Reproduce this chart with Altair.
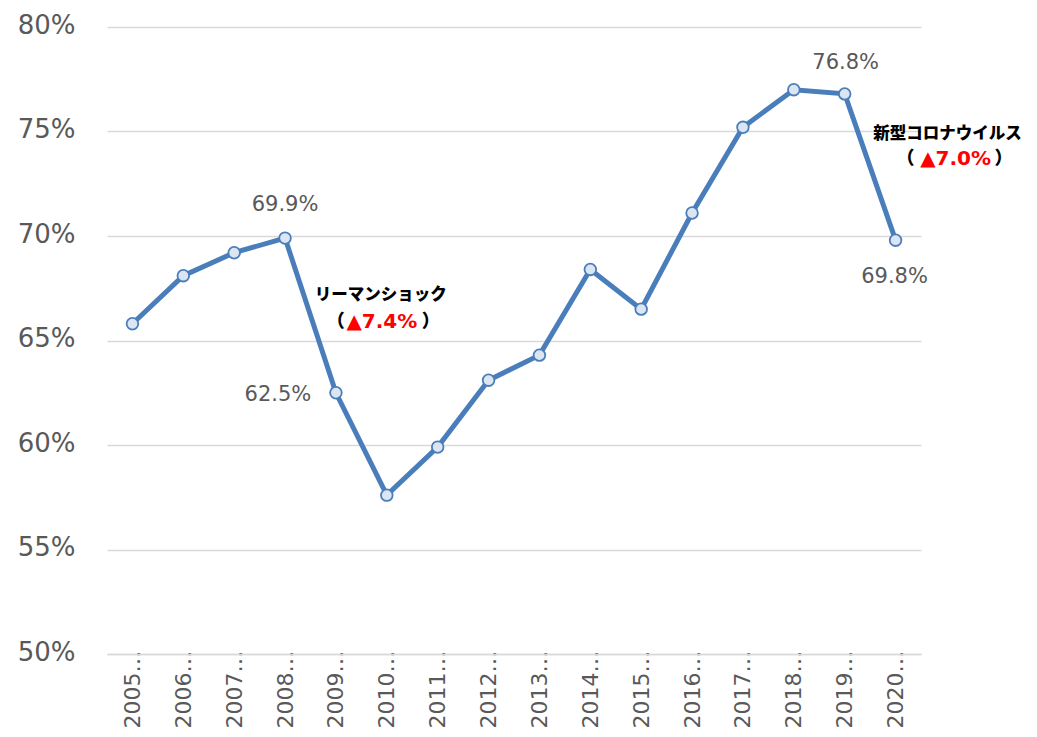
import altair as alt
import pandas as pd

# ---- data ----
years = [str(y) for y in range(2005, 2021)]
rates = [65.8, 68.1, 69.2, 69.9, 62.5, 57.6, 59.9, 63.1, 64.3, 68.4,
         66.5, 71.1, 75.2, 77.0, 76.8, 69.8]
y_ticks = [50, 55, 60, 65, 70, 75, 80]

lehman_title = "リーマンショック"
lehman_drop = "▲7.4%"
covid_title = "新型コロナウイルス"
covid_drop = "▲7.0%"

df = pd.DataFrame({"year": years, "rate": rates})

LINE = "#4a7ebb"
GREY = "#595959"
GRID = "#d9d9d9"

x_enc = alt.X("year:N", sort=years,
              axis=alt.Axis(title=None, labelAngle=270, labelAlign="right",
                            labelBaseline="middle", labelFontSize=22,
                            labelFont="DejaVu Sans", labelColor=GREY,
                            labelExpr="datum.label + '…'", ticks=False,
                            domain=True, domainColor=GRID, domainWidth=1.5,
                            labelPadding=-4, grid=False))
y_enc = alt.Y("rate:Q",
              scale=alt.Scale(domain=[50, 80], nice=False, zero=False),
              axis=alt.Axis(title=None, values=y_ticks, labelExpr="datum.value + '%'",
                            labelFontSize=26, labelFont="DejaVu Sans",
                            labelColor=GREY, ticks=False, tickSize=0,
                            labelPadding=32, domain=False, grid=True,
                            gridColor=GRID, gridWidth=1.5, labelOffset=-2))

base = alt.Chart(df)
line = base.mark_line(color=LINE, strokeWidth=5).encode(x=x_enc, y=y_enc)
pts = base.mark_point(shape="circle", filled=True, fill="#dce6f2", stroke=LINE,
                      strokeWidth=1.8, size=135, opacity=1).encode(x="year:N", y="rate:Q")


def value_label(year, dx, dy, align="center"):
    return base.transform_filter(alt.datum.year == year).transform_calculate(
        lab="format(datum.rate, '.1f') + '%'"
    ).mark_text(fontSize=21, font="DejaVu Sans", color=GREY, dx=dx, dy=dy,
                align=align, baseline="middle").encode(
        x="year:N", y="rate:Q", text="lab:N")


labels = [
    value_label("2008", 0, -33),
    value_label("2009", -58, 2),
    value_label("2019", 1, -31),
    value_label("2020", -1, 37),
]


def ann_text(anchor, level, text, dx, color, font, size, weight="bold"):
    d = pd.DataFrame({"year": [anchor], "rate": [level], "t": [text]})
    return alt.Chart(d).mark_text(fontSize=size, font=font, fontWeight=weight,
                                  color=color, dx=dx, align="center",
                                  baseline="middle").encode(
        x="year:N", y="rate:Q", text="t:N")


JP = "Noto Sans CJK JP"
LAT = "DejaVu Sans"
anns = [
    ann_text("2010", 67.2, lehman_title, -6, "black", JP, 16.5, 900),
    ann_text("2010", 65.9, "（", -51, "black", JP, 18, 900),
    ann_text("2010", 65.9, lehman_drop, -5, "#ff0000", LAT, 20),
    ann_text("2010", 65.9, "）", 44, "black", JP, 18, 900),
    ann_text("2020", 74.9, covid_title, 52, "black", JP, 16.5, 900),
    ann_text("2020", 73.7, "（", 10, "black", JP, 18, 900),
    ann_text("2020", 73.7, covid_drop, 60, "#ff0000", LAT, 20),
    ann_text("2020", 73.7, "）", 108, "black", JP, 18, 900),
]

chart = alt.layer(line, pts, *labels, *anns).properties(
    width=814, height=627,
    autosize=alt.AutoSizeParams(type="none"),
    padding={"left": 99, "top": 19, "right": 108, "bottom": 75},
).configure_view(stroke=None)

chart.save("out.html", embed_options={"renderer": "svg", "actions": False})
